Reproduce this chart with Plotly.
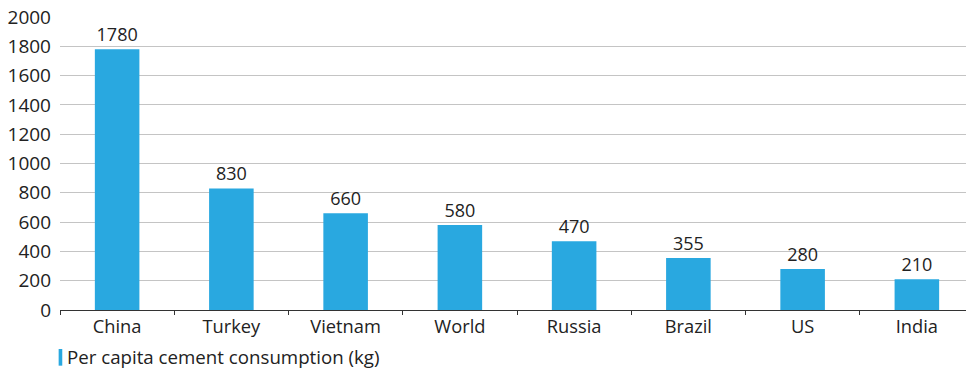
import plotly.graph_objects as go

categories = ["China", "Turkey", "Vietnam", "World", "Russia", "Brazil", "US", "India"]
values = [1780, 830, 660, 580, 470, 355, 280, 210]
series_name = "Per capita cement consumption (kg)"
y_ticks = list(range(0, 2001, 200))

bar_color = "#29A8E0"
font_family = "Open Sans"
text_color = "#222222"

fig = go.Figure()
fig.add_trace(go.Bar(
    x=categories, y=values, name=series_name,
    marker=dict(color=bar_color, line=dict(width=0)),
    width=0.39,
    text=[str(v) for v in values], textposition="outside",
    textfont=dict(family=font_family, size=18, color=text_color),
    cliponaxis=False,
    showlegend=False,
))

fig.update_layout(
    width=966, height=375,
    margin=dict(l=59.5, r=0, t=17, b=65),
    paper_bgcolor="white", plot_bgcolor="white",
    font=dict(family=font_family, size=18, color=text_color),
    bargap=0.6,
    xaxis=dict(
        range=[-0.5, 7.43], showgrid=False,
        showline=True, linecolor="#333333", linewidth=1.2,
        ticks="outside", tickson="boundaries", ticklen=4, tickcolor="#333333",
        tickfont=dict(size=18.3, color=text_color),
    ),
    yaxis=dict(
        range=[0, 2000], tickvals=y_ticks, ticktext=[str(t) for t in y_ticks],
        showgrid=True, gridcolor="#c4c4c4", gridwidth=1.2,
        zeroline=False, showline=False, ticks="",
        tickfont=dict(size=19, color=text_color), ticklabelstandoff=8,
    ),
    shapes=[dict(type="rect", xref="paper", yref="paper",
                 x0=-0.0015, x1=0.0025, y0=-0.133, y1=-0.19,
                 fillcolor=bar_color, line=dict(width=0))],
    annotations=[dict(text=series_name, xref="paper", yref="paper",
                      x=0.006, y=-0.16, xanchor="left", yanchor="middle",
                      showarrow=False, font=dict(size=18.7, color=text_color))],
)

fig.write_html("out.html")
